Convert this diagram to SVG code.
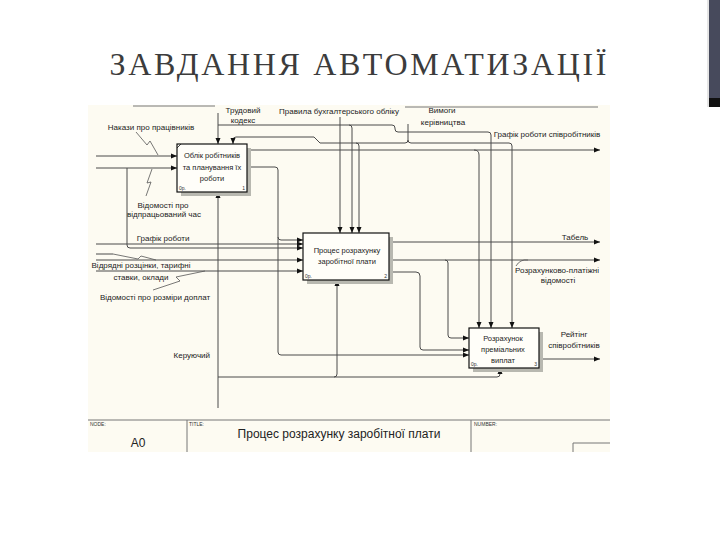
<svg xmlns="http://www.w3.org/2000/svg" width="720" height="540" viewBox="0 0 720 540">
<defs>
<marker id="ar" markerWidth="6" markerHeight="6" refX="6" refY="3" orient="auto" markerUnits="userSpaceOnUse"><path d="M0,0.5 L6,3 L0,5.5 z" fill="#111"/></marker>
<style>
.t{font-family:"Liberation Sans",Arial,sans-serif;font-size:8px;fill:#222}
.b{font-family:"Liberation Sans",Arial,sans-serif;font-size:7.5px;fill:#222;text-anchor:middle}
.s{font-family:"Liberation Sans",Arial,sans-serif;font-size:5px;fill:#333}
.c{fill:none;stroke:#4a4a4a;stroke-width:1}
.a{marker-end:url(#ar)}
.z{fill:none;stroke:#555;stroke-width:0.8}
.box{fill:#fffef9;stroke:#111;stroke-width:1.2}
.sh{fill:#b8b8b0}
</style>
</defs>
<rect width="720" height="540" fill="#fff"/>
<rect x="709" y="0" width="11" height="98" fill="#474a5c"/>
<rect x="709" y="98" width="11" height="9" fill="#111"/>
<line x1="708" y1="0" x2="708" y2="107" stroke="#ccc" stroke-width="1"/>
<text x="358" y="75" text-anchor="middle" font-family="'Liberation Serif','Times New Roman',serif" font-size="32" fill="#3c3c3c" textLength="497" lengthAdjust="spacing">ЗАВДАННЯ АВТОМАТИЗАЦІЇ</text>

<rect x="88" y="105" width="522" height="347" fill="#fdfbf2"/>
<g id="frame" fill="none" stroke="#777" stroke-width="1">
<line x1="133" y1="106" x2="215" y2="106"/>
<line x1="405" y1="107" x2="598" y2="107"/>
<line x1="88" y1="420" x2="610" y2="420"/>
<line x1="187" y1="420" x2="187" y2="452"/>
<line x1="471" y1="420" x2="471" y2="452"/>
<path d="M573,452 V443 H610"/>
</g>

<g id="connectors">
<path class="c a" d="M218,113 V144"/>
<path class="c a" d="M218,125 H392 Q395,125 395,128 V129 Q395,132 398,132 H488 Q491,132 491,135 V328"/>
<path class="c a" d="M349,125 Q352,125 352,128 V233"/>
<path class="c a" d="M340,117 V233"/>
<path class="c a" d="M408,124 V140 Q408,143 405,143 H320 L314,137 H236 Q233,137 233,140 V144"/>
<path class="c a" d="M356,143 Q359,143 359,146 V233"/>
<path class="c a" d="M408,140 Q408,143 411,143 H509 Q512,143 512,146 V328"/>
<path class="c a" d="M247,150 H600"/>
<path class="c a" d="M474,150 Q479,150 479,155 V328"/>
<path class="c a" d="M247,167 H275 Q278,167 278,170 V237 Q278,240 281,240 H303"/>
<path class="c a" d="M278,237 V352 Q278,355 281,355 H469"/>
<path class="c a" d="M96,156 H177"/>
<path class="c a" d="M96,168 H177"/>
<path class="c a" d="M127,168 V245 Q127,248 130,248 H303"/>
<path class="c a" d="M96,244 H303"/>
<path class="c a" d="M96,260 H303"/>
<path class="c" d="M96,254 H113"/>
<path class="c a" d="M96,271 H303"/>
<path class="c a" d="M389,242 H600"/>
<path class="c a" d="M389,260 H600"/>
<path class="c a" d="M445,260 Q448,260 448,263 V335 Q448,338 451,338 H469"/>
<path class="c a" d="M389,272 H416 Q420,272 420,276 V347 Q420,350 423,350 H469"/>
<path class="c a" d="M539,359 H600"/>
<path class="c a" d="M218,408 V192"/>
<path class="c a" d="M218,377 H334 Q337,377 337,374 V280"/>
<path class="c a" d="M334,377 H497 Q500,377 500,374 V368"/>
<path class="z" d="M136,132 L147,145 L150,141 L158,155"/>
<path class="z" d="M152,169 L147,183 L151,182 L146,196"/>
<path class="z" d="M113,254 L138,259 L141,256 L156,260"/>
<path class="z" d="M153,290 L180,281 L176,277 L205,271"/>
<path class="z" d="M516,266 Q520,259 528,260"/>
</g>

<g id="box1">
<rect class="sh" x="181" y="148" width="70" height="48"/>
<rect class="box" x="177" y="144" width="70" height="48"/>
<path d="M177,148 L181,144" stroke="#111" stroke-width="0.8"/>
<text class="b" x="212" y="158">Облік робітників</text>
<text class="b" x="212" y="170">та планування їх</text>
<text class="b" x="212" y="181">роботи</text>
<text class="s" x="179" y="190">0р.</text>
<text class="s" x="245" y="190" text-anchor="end">1</text>
</g>
<g id="box2">
<rect class="sh" x="307" y="237" width="86" height="47"/>
<rect class="box" x="303" y="233" width="86" height="47"/>
<text class="b" x="347" y="253">Процес розрахунку</text>
<text class="b" x="347" y="264">заробітної плати</text>
<text class="s" x="305" y="278">0р.</text>
<text class="s" x="387" y="278" text-anchor="end">2</text>
</g>
<g id="box3">
<rect class="sh" x="473" y="332" width="70" height="40"/>
<rect class="box" x="469" y="328" width="70" height="40"/>
<text class="b" x="503" y="341">Розрахунок</text>
<text class="b" x="503" y="352">преміальних</text>
<text class="b" x="503" y="363">виплат</text>
<text class="s" x="471" y="366">0р.</text>
<text class="s" x="537" y="366" text-anchor="end">3</text>
</g>

<g id="labels">
<text class="t" x="243" y="113" text-anchor="middle">Трудовий</text>
<text class="t" x="243" y="123" text-anchor="middle">кодекс</text>
<text class="t" x="339" y="114" text-anchor="middle">Правила бухгалтерського обліку</text>
<text class="t" x="442" y="113" text-anchor="middle" font-size="9">Вимоги</text>
<text class="t" x="443" y="125" text-anchor="middle" font-size="9">керівництва</text>
<text class="t" x="547" y="137" text-anchor="middle" font-size="7.5">Графік роботи співробітників</text>
<text class="t" x="151" y="130" text-anchor="middle">Накази про працівників</text>
<text class="t" x="163" y="208" text-anchor="middle">Відомості про</text>
<text class="t" x="164" y="217" text-anchor="middle">відпрацьований час</text>
<text class="t" x="163" y="241" text-anchor="middle">Графік роботи</text>
<text class="t" x="141" y="268" text-anchor="middle">Відрядні розцінки, тарифні</text>
<text class="t" x="141" y="280" text-anchor="middle">ставки, оклади</text>
<text class="t" x="155" y="300" text-anchor="middle">Відомості про розміри доплат</text>
<text class="t" x="575" y="240" text-anchor="middle">Табель</text>
<text class="t" x="557" y="273" text-anchor="middle">Розрахунково-платіжні</text>
<text class="t" x="558" y="283" text-anchor="middle">відомості</text>
<text class="t" x="574" y="337" text-anchor="middle">Рейтінг</text>
<text class="t" x="574" y="348" text-anchor="middle">співробітників</text>
<text class="t" x="210" y="358" text-anchor="end">Керуючий</text>
</g>

<g id="titleblock">
<text class="s" x="90" y="426">NODE:</text>
<text class="s" x="189" y="426">TITLE:</text>
<text class="s" x="474" y="426">NUMBER:</text>
<text x="138" y="447" text-anchor="middle" font-family="'Liberation Sans',Arial,sans-serif" font-size="12" fill="#222">A0</text>
<text x="339" y="438" text-anchor="middle" font-family="'Liberation Sans',Arial,sans-serif" font-size="12" fill="#222">Процес розрахунку заробітної плати</text>
</g>
</svg>
